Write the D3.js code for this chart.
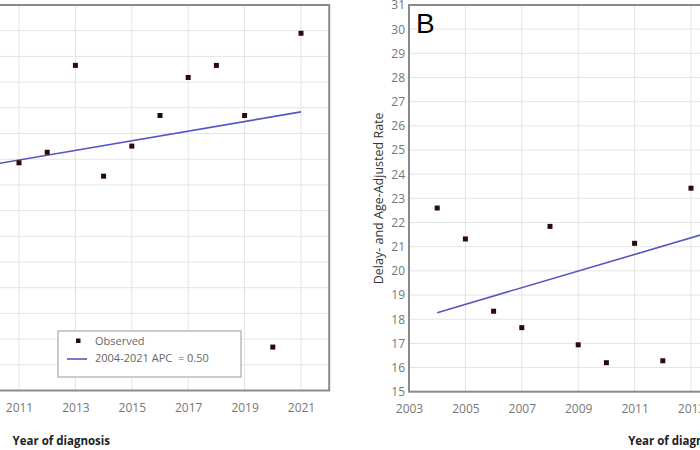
<!DOCTYPE html>
<html>
<head>
<meta charset="utf-8">
<script src="https://cdn.jsdelivr.net/npm/d3@7"></script>
<style>
  html, body { margin: 0; padding: 0; background: #fff; overflow: hidden; }
  svg { display: block; }
  text { font-family: "Open Sans", "Noto Sans", sans-serif; }
</style>
</head>
<body>
<svg id="chart" width="700" height="450"></svg>
<script>
// ---- Data ----
const yearsA = [2011, 2012, 2013, 2014, 2015, 2016, 2017, 2018, 2019, 2020, 2021];
const observedA = [23.86, 24.27, 27.65, 23.34, 24.51, 25.70, 27.18, 27.65, 25.70, 16.69, 28.90];
const trendYearsA = [2004, 2021];
const trendValuesA = [22.66, 25.84];

const yearsB = [2004, 2005, 2006, 2007, 2008, 2009, 2010, 2011, 2012, 2013];
const observedB = [22.6, 21.32, 18.33, 17.65, 21.84, 16.94, 16.20, 21.14, 16.28, 23.42];
const trendYearsB = [2004, 2021];
const trendValuesB = [18.27, 24.12];

const xTickLabels = [2003, 2005, 2007, 2009, 2011, 2013, 2015, 2017, 2019, 2021];
const yTicksA = d3.range(15, 31, 1);
const yTicksB = d3.range(15, 32, 1);
const legendLabels = ["Observed", "2004-2021 APC  = 0.50"];

// ---- Styles ----
const markerColor = "#2a0a0a";
const lineColor = "#5656c4";
const gridColor = "#e4e4e4";
const frameColor = "#8a8a8a";
const tickColor = "#777";

const svg = d3.select("#chart");

function panel(opts) {
  const { x0, x1, yTop, yBot, yDomain, yTicks, years, values, tYears, tValues, letter, showYLabels } = opts;
  const x = d3.scaleLinear().domain([2003, 2022]).range([x0, x1]);
  const y = d3.scaleLinear().domain(yDomain).range([yBot, yTop]);
  const g = svg.append("g");

  g.append("g").selectAll("line").data(yTicks).join("line")
    .attr("x1", x0).attr("x2", x1)
    .attr("y1", d => y(d)).attr("y2", d => y(d))
    .attr("stroke", gridColor).attr("stroke-width", 1);
  g.append("g").selectAll("line").data(xTickLabels).join("line")
    .attr("x1", d => x(d)).attr("x2", d => x(d))
    .attr("y1", yTop).attr("y2", yBot)
    .attr("stroke", gridColor).attr("stroke-width", 1);

  g.append("rect").attr("x", x0).attr("y", yTop)
    .attr("width", x1 - x0).attr("height", yBot - yTop)
    .attr("fill", "none").attr("stroke", frameColor).attr("stroke-width", 2);

  const xAxis = d3.axisBottom(x).tickValues(xTickLabels.filter(d => x(d) > -10 && x(d) < 720))
    .tickFormat(d3.format("d")).tickSize(0).tickPadding(13);
  const ax = g.append("g").attr("transform", `translate(0,${yBot})`).call(xAxis);
  ax.select(".domain").remove();
  ax.selectAll("text").attr("fill", tickColor).style("font-size", "12px");

  if (showYLabels) {
    const yAxis = d3.axisLeft(y).tickValues(yTicks).tickFormat(d3.format("d")).tickSize(0).tickPadding(4);
    const ay = g.append("g").attr("transform", `translate(${x0},0)`).call(yAxis);
    ay.select(".domain").remove();
    ay.selectAll("text").attr("fill", tickColor).style("font-size", "12px");
    g.append("text")
      .attr("transform", `translate(${x0 - 29},${(yTop + yBot) / 2}) rotate(-90)`)
      .attr("text-anchor", "middle").attr("dominant-baseline", "middle")
      .attr("fill", "#333").style("font-size", "12.5px")
      .text("Delay- and Age-Adjusted Rate");
  }

  g.append("text")
    .attr("x", (x0 + x1) / 2).attr("y", 445)
    .attr("text-anchor", "middle")
    .attr("fill", "#222").style("font-size", "11.5px").style("font-weight", "bold")
    .text("Year of diagnosis");

  const line = d3.line().x(d => x(d[0])).y(d => y(d[1]));
  g.append("path").datum(d3.zip(tYears, tValues))
    .attr("d", line).attr("fill", "none")
    .attr("stroke", lineColor).attr("stroke-width", 1.6);

  g.append("g").selectAll("rect").data(d3.zip(years, values)).join("rect")
    .attr("x", d => x(d[0]) - 2.5).attr("y", d => y(d[1]) - 2.5)
    .attr("width", 5).attr("height", 5).attr("fill", markerColor);

  if (letter) {
    g.append("text").attr("x", x0 + 7).attr("y", yTop + 28)
      .attr("fill", "#000").style("font-size", "28px")
      .style("font-family", "'Liberation Sans', Arial, sans-serif")
      .text(letter);
  }
  return { x, y, g };
}

const A = panel({
  x0: -206.6, x1: 329.2, yTop: 5, yBot: 390.5, yDomain: [15, 30], yTicks: yTicksA,
  years: yearsA, values: observedA, tYears: trendYearsA, tValues: trendValuesA,
  letter: null, showYLabels: false
});

const B = panel({
  x0: 409, x1: 944.8, yTop: 5, yBot: 391.7, yDomain: [15, 31], yTicks: yTicksB,
  years: yearsB, values: observedB, tYears: trendYearsB, tValues: trendValuesB,
  letter: "B", showYLabels: true
});

const lg = A.g.append("g");
lg.append("rect").attr("x", 58).attr("y", 331).attr("width", 183).attr("height", 46)
  .attr("fill", "#fff").attr("stroke", "#aaa").attr("stroke-width", 1.2);
lg.append("rect").attr("x", 76).attr("y", 338.5).attr("width", 4.5).attr("height", 4.5).attr("fill", markerColor);
lg.append("line").attr("x1", 67).attr("x2", 87).attr("y1", 359).attr("y2", 359)
  .attr("stroke", lineColor).attr("stroke-width", 1.6);
lg.selectAll("text.lt").data(legendLabels).join("text").attr("class", "lt")
  .attr("x", 95).attr("y", (d, i) => 342 + i * 17)
  .attr("dominant-baseline", "middle")
  .attr("fill", "#666").style("font-size", "11px").style("white-space", "pre")
  .text(d => d);
</script>
</body>
</html>
